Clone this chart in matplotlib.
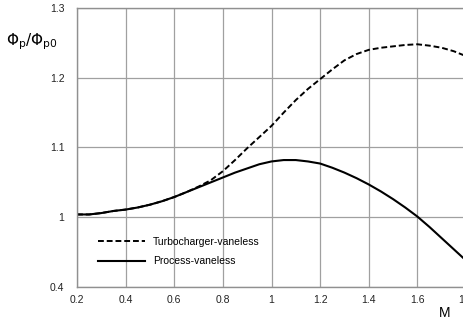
import matplotlib
matplotlib.use("Agg")
from matplotlib import pyplot as plt

# Mach number
mach = [0.2, 0.25, 0.3, 0.35, 0.4, 0.45, 0.5, 0.55, 0.6, 0.65, 0.7, 0.75, 0.8, 0.85, 0.9, 0.95,
        1.0, 1.05, 1.1, 1.15, 1.2, 1.25, 1.3, 1.35, 1.4, 1.45, 1.5, 1.55, 1.6, 1.65, 1.7, 1.75, 1.8]
# Phi_p / Phi_p0
process_vaneless = [1.004, 1.004, 1.006, 1.009, 1.011, 1.014, 1.018, 1.023, 1.029, 1.036, 1.043,
                    1.050, 1.057, 1.064, 1.070, 1.076, 1.080, 1.082, 1.082, 1.080, 1.077, 1.071,
                    1.064, 1.056, 1.047, 1.037, 1.026, 1.014, 1.001, 0.986, 0.970, 0.954, 0.938]
turbo_vaneless = [1.004, 1.004, 1.006, 1.009, 1.011, 1.014, 1.018, 1.023, 1.029, 1.036, 1.044,
                  1.053, 1.066, 1.082, 1.099, 1.115, 1.131, 1.150, 1.168, 1.184, 1.198, 1.212,
                  1.225, 1.234, 1.240, 1.243, 1.245, 1.247, 1.248, 1.246, 1.243, 1.238, 1.231]

x_ticks = [0.2, 0.4, 0.6, 0.8, 1.0, 1.2, 1.4, 1.6, 1.8]
x_tick_labels = ["0.2", "0.4", "0.6", "0.8", "1", "1.2", "1.4", "1.6", "1.8"]
y_ticks = [0.9, 1.0, 1.1, 1.2, 1.3]
y_tick_labels = ["0.4", "1", "1.1", "1.2", "1.3"]

plt.rcParams["font.family"] = ["Liberation Sans", "DejaVu Sans"]

fig = plt.figure(figsize=(4.64, 3.25), dpi=100)
ax = fig.add_axes([77 / 464, 38 / 325, 389 / 464, 279 / 325])

ax.plot(mach, turbo_vaneless, color="black", lw=1.4, dashes=(3, 1.5),
        label="Turbocharger-vaneless")
ax.plot(mach, process_vaneless, color="black", lw=1.5, label="Process-vaneless")

ax.set_xlim(0.2, 1.8)
ax.set_ylim(0.9, 1.3)
ax.set_xticks(x_ticks)
ax.set_xticklabels(x_tick_labels)
ax.set_yticks(y_ticks)
ax.set_yticklabels(y_tick_labels)
ax.tick_params(length=0, labelsize=7.5, colors="#222222")
ax.tick_params(axis="y", pad=9)
ax.tick_params(axis="x", pad=6)
ax.grid(True, color="#a0a0a0", lw=0.9)
ax.set_axisbelow(True)
ax.spines["right"].set_visible(False)
for side in ["left", "bottom", "top"]:
    ax.spines[side].set_color("#909090")
    ax.spines[side].set_linewidth(1.0)

ax.legend(loc="lower left", bbox_to_anchor=(0.03, 0.04), frameon=False, fontsize=7.5,
          handlelength=4.5, handletextpad=0.8, labelspacing=0.9)

fig.text(6 / 464, 1 - 42 / 325, r"$\mathit{\Phi}_{\mathrm{p}}/\mathit{\Phi}_{\mathrm{p0}}$",
         fontsize=11, va="center", ha="left")
fig.text(445 / 464, 1 - 313 / 325, "M", fontsize=10, va="center", ha="center")

fig.savefig("out.png", dpi=100)
